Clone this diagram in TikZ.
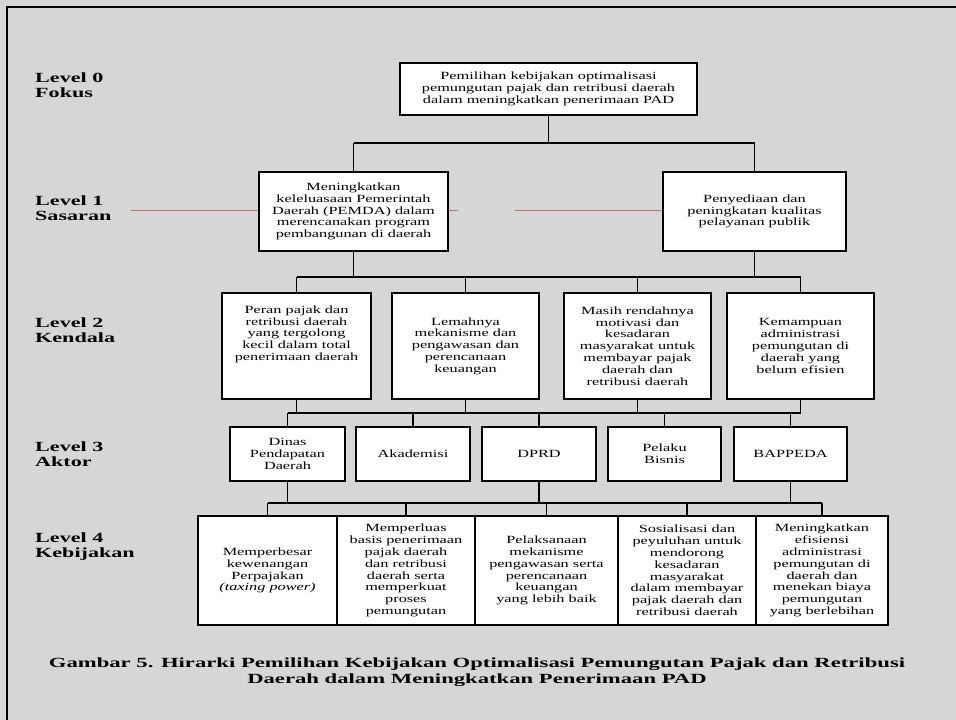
\documentclass[tikz,border=0pt]{standalone}
\usepackage{fontspec}
\setmainfont{Liberation Serif}[FakeStretch=1.48]
\newfontfamily\levelfont{Liberation Serif}[FakeStretch=1.58]
\newfontfamily\capfont{Liberation Serif}[FakeStretch=1.62]
\definecolor{paper}{RGB}{214,214,214}
\definecolor{guide}{RGB}{185,120,115}

\begin{document}
\begin{tikzpicture}[x=1bp,y=-1bp,
  box/.style={draw=black, line width=1.6bp, fill=white, align=center,
    inner sep=0pt, font=\fontsize{11bp}{11.8bp}\selectfont},
  link/.style={draw=black, line width=1.6bp},
  lvl/.style={anchor=west, align=left, inner sep=0pt,
    font=\levelfont\bfseries\fontsize{14bp}{15bp}\selectfont},
  caption/.style={align=center, inner sep=0pt,
    font=\capfont\bfseries\fontsize{14bp}{16bp}\selectfont},
  frame/.style={draw=black, line width=2.4bp}
]
% page background and frame
\fill[paper] (0,0) rectangle (956,720);
\useasboundingbox (0,0) rectangle (956,720);
\draw[frame] (956,7) -- (7,7) -- (7,720);

% thin guide line behind the level 1 boxes
\draw[guide, line width=0.9bp] (131,210) -- (458,210);
\draw[guide, line width=0.9bp] (515,210) -- (663,210);

% level labels
\node[lvl] (lab0) at (35,85)  {Level 0\\Fokus};
\node[lvl] (lab1) at (35,208) {Level 1\\Sasaran};
\node[lvl] (lab2) at (35,330) {Level 2\\Kendala};
\node[lvl] (lab3) at (35,454) {Level 3\\Aktor};
\node[lvl] (lab4) at (35,547) {Level 4\\Kebijakan};

% level 0
\node[box, minimum width=297bp, minimum height=52bp] (L0) at (548.5,89)
  {Pemilihan kebijakan optimalisasi\\pemungutan pajak dan retribusi daerah\\dalam meningkatkan penerimaan PAD};

% level 1
\node[box, minimum width=189bp, minimum height=79bp] (L1a) at (353.5,211.5)
  {Meningkatkan\\keleluasaan Pemerintah\\Daerah (PEMDA) dalam\\merencanakan program\\pembangunan di daerah};
\node[box, minimum width=183bp, minimum height=79bp] (L1b) at (754.5,211.5)
  {Penyediaan dan\\peningkatan kualitas\\pelayanan publik};

% level 2
\node[box, minimum width=149bp, minimum height=106bp] (L2a) at (296.5,346)
  {Peran pajak dan\\retribusi daerah\\yang tergolong\\kecil dalam total\\penerimaan daerah\\[14bp]};
\node[box, minimum width=147bp, minimum height=106bp] (L2b) at (465.5,346)
  {Lemahnya\\mekanisme dan\\pengawasan dan\\perencanaan\\keuangan};
\node[box, minimum width=147bp, minimum height=106bp] (L2c) at (637.5,346)
  {Masih rendahnya\\motivasi dan\\kesadaran\\masyarakat untuk\\membayar pajak\\daerah dan\\retribusi daerah};
\node[box, minimum width=147bp, minimum height=106bp] (L2d) at (800.5,346)
  {Kemampuan\\administrasi\\pemungutan di\\daerah yang\\belum efisien};

% level 3
\node[box, minimum width=115bp, minimum height=54bp] (L3a) at (287.5,454) {Dinas\\Pendapatan\\Daerah};
\node[box, minimum width=114bp, minimum height=54bp] (L3b) at (413,454) {Akademisi};
\node[box, minimum width=114bp, minimum height=54bp] (L3c) at (539,454) {DPRD};
\node[box, minimum width=113bp, minimum height=54bp] (L3d) at (664.5,454) {Pelaku\\Bisnis};
\node[box, minimum width=113bp, minimum height=54bp] (L3e) at (790.5,454) {BAPPEDA};

% level 4
\node[box, minimum width=139bp, minimum height=109bp] (L4a) at (267.5,570.5)
  {Memperbesar\\kewenangan\\Perpajakan\\\textit{(taxing power)}};
\node[box, minimum width=138bp, minimum height=109bp] (L4b) at (406,570.5)
  {Memperluas\\basis penerimaan\\pajak daerah\\dan retribusi\\daerah serta\\memperkuat\\proses\\pemungutan};
\node[box, minimum width=143bp, minimum height=109bp] (L4c) at (546.5,570.5)
  {Pelaksanaan\\mekanisme\\pengawasan serta\\perencanaan\\keuangan\\yang lebih baik};
\node[box, minimum width=138bp, minimum height=109bp] (L4d) at (687,570.5)
  {Sosialisasi dan\\peyuluhan untuk\\mendorong\\kesadaran\\masyarakat\\dalam membayar\\pajak daerah dan\\retribusi daerah};
\node[box, minimum width=132bp, minimum height=109bp] (L4e) at (822,570.5)
  {Meningkatkan\\efisiensi\\administrasi\\pemungutan di\\daerah dan\\menekan biaya\\pemungutan\\yang berlebihan};

% bus lines between levels
\coordinate (bus01) at (0,143);
\coordinate (bus12) at (0,277);
\coordinate (bus23) at (0,413);
\coordinate (bus34) at (0,503);

% level 0 -> level 1
\draw[link] (L0.south) -- (L0.south |- bus01);
\draw[link] (L1a.north |- bus01) -- (L1b.north |- bus01);
\foreach \n in {L1a,L1b} \draw[link] (\n.north |- bus01) -- (\n.north);

% level 1 -> level 2
\draw[link] (L2a.north |- bus12) -- (L2d.north |- bus12);
\foreach \n in {L1a,L1b} \draw[link] (\n.south) -- (\n.south |- bus12);
\foreach \n in {L2a,L2b,L2c,L2d} \draw[link] (\n.north |- bus12) -- (\n.north);

% level 2 -> level 3
\draw[link] (L3a.north |- bus23) -- (L2d.south |- bus23);
\foreach \n in {L2a,L2b,L2c,L2d} \draw[link] (\n.south) -- (\n.south |- bus23);
\foreach \n in {L3a,L3b,L3c,L3d,L3e} \draw[link] (\n.north |- bus23) -- (\n.north);

% level 3 -> level 4
\draw[link] (L4a.north |- bus34) -- (L4e.north |- bus34);
\foreach \n in {L3a,L3c,L3e} \draw[link] (\n.south) -- (\n.south |- bus34);
\foreach \n in {L4a,L4b,L4c,L4d,L4e} \draw[link] (\n.north |- bus34) -- (\n.north);

% caption
\node[caption] (cap) at (477,672)
  {Gambar 5. Hirarki Pemilihan Kebijakan Optimalisasi Pemungutan Pajak dan Retribusi\\Daerah dalam Meningkatkan Penerimaan PAD};
\end{tikzpicture}
\end{document}
